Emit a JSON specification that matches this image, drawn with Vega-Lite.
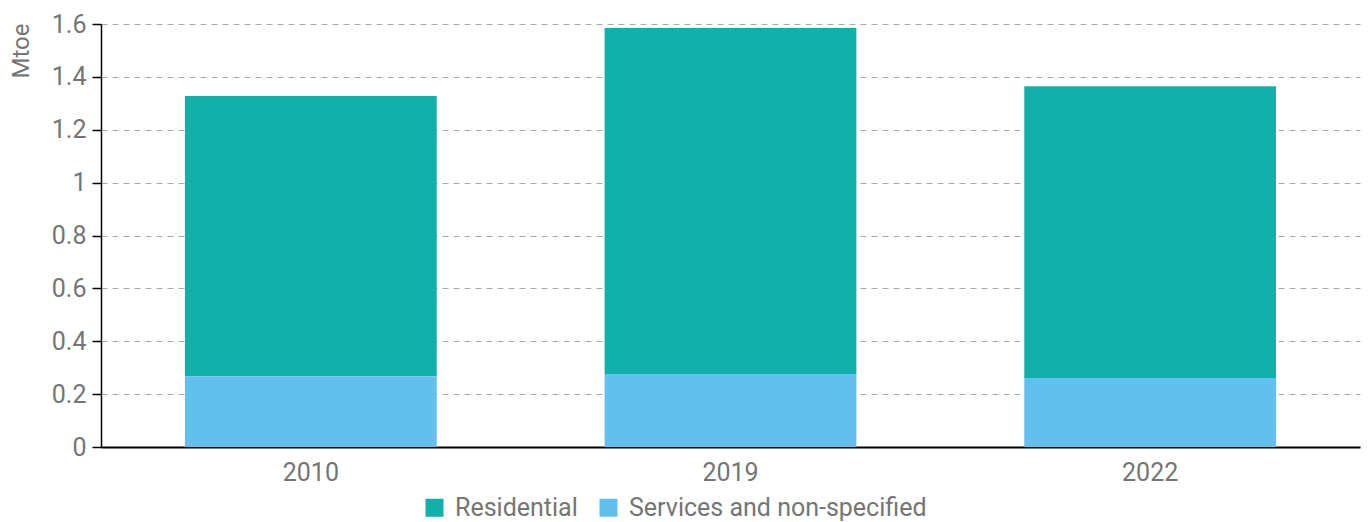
{
  "$schema": "https://vega.github.io/schema/vega-lite/v6.json",
  "width": 1259,
  "height": 423,
  "autosize": "none",
  "padding": {"left": 101, "top": 24, "right": 10, "bottom": 75},
  "data": {
    "values": [
      {"year": "2010", "category": "Residential", "value": 1.06},
      {"year": "2010", "category": "Services and non-specified", "value": 0.268},
      {"year": "2019", "category": "Residential", "value": 1.309},
      {"year": "2019", "category": "Services and non-specified", "value": 0.276},
      {"year": "2022", "category": "Residential", "value": 1.104},
      {"year": "2022", "category": "Services and non-specified", "value": 0.261}
    ]
  },
  "mark": {"type": "bar"},
  "encoding": {
    "x": {
      "field": "year",
      "type": "nominal",
      "scale": {"paddingInner": 0.4, "paddingOuter": 0.2},
      "axis": {
        "title": null,
        "labelAngle": 0,
        "ticks": false,
        "grid": false,
        "domainColor": "#000",
        "domainWidth": 2,
        "labelFontSize": 25,
        "labelColor": "#757575",
        "labelPadding": 13
      }
    },
    "y": {
      "field": "value",
      "type": "quantitative",
      "stack": "zero",
      "scale": {"domain": [0, 1.6], "nice": false},
      "axis": {
        "title": "Mtoe",
        "values": [0, 0.2, 0.4, 0.6, 0.8, 1, 1.2, 1.4, 1.6],
        "format": ".1~f",
        "grid": true,
        "gridDash": [6, 5],
        "gridColor": "#aaaaaa",
        "gridWidth": 1,
        "domainColor": "#000",
        "domainWidth": 1.5,
        "tickColor": "#000",
        "tickSize": 9,
        "tickWidth": 1.5,
        "labelFontSize": 25,
        "labelColor": "#757575",
        "labelPadding": 6,
        "titleFontSize": 24,
        "titleFontWeight": "normal",
        "titleColor": "#757575",
        "titleAngle": -90,
        "titleX": -80,
        "titleY": -1,
        "titleAlign": "right",
        "titleBaseline": "middle"
      }
    },
    "color": {
      "field": "category",
      "type": "nominal",
      "scale": {
        "domain": ["Residential", "Services and non-specified"],
        "range": ["#13afaa", "#62c0ee"]
      },
      "legend": {
        "title": null,
        "orient": "none",
        "direction": "horizontal",
        "legendX": 321,
        "legendY": 471,
        "symbolType": "square",
        "symbolSize": 324,
        "symbolStrokeWidth": 0,
        "labelFontSize": 25,
        "labelColor": "#757575",
        "labelOffset": 8,
        "labelLimit": 600,
        "columnPadding": 18
      }
    },
    "order": {"field": "category", "sort": "descending"}
  },
  "config": {
    "font": "Roboto",
    "view": {"stroke": null}
  }
}
